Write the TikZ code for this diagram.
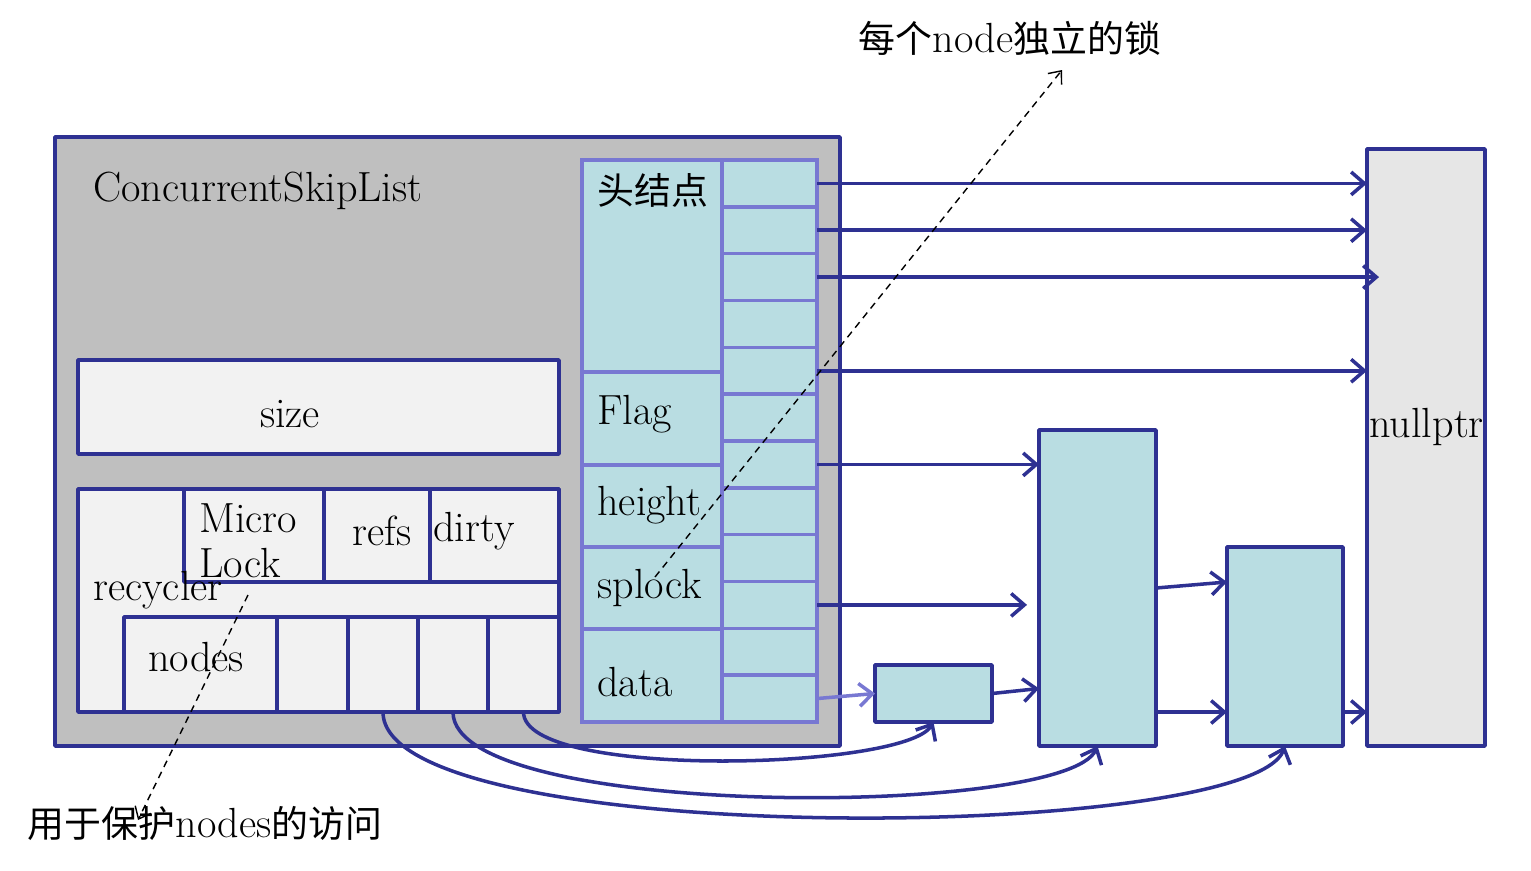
\documentclass[tikz,border=0pt]{standalone}
\usepackage{fontspec}
\newfontfamily\cjk{Noto Sans CJK SC}
\usetikzlibrary{arrows.meta,fit}
\definecolor{navy}{RGB}{46,49,146}
\definecolor{slate}{RGB}{120,120,210}
\definecolor{lblue}{RGB}{185,221,226}
\definecolor{gbg}{RGB}{191,191,191}
\definecolor{lgray}{RGB}{242,242,242}
\definecolor{ngray}{RGB}{230,230,230}
\newcommand{\zh}[1]{{\cjk\fontsize{21}{26}\selectfont #1}}
\begin{document}
\begin{tikzpicture}[x=0.02cm,y=-0.02cm,
  every node/.style={font=\fontsize{24}{25.5}\selectfont},
  box/.style={draw=navy,line width=2pt,inner sep=0pt,outer sep=0pt,line join=round},
  hcell/.style={draw=slate,fill=lblue,line width=2pt,inner sep=0pt,outer sep=0pt},
  lbl/.style={inner sep=0pt,anchor=west},
  arr/.style={navy,line width=2pt,-{Straight Barb[length=7.5pt,width=13pt]}},
  sarr/.style={slate,line width=2pt,-{Straight Barb[length=7.5pt,width=13pt]}},
  dsh/.style={black,line width=0.8pt,dash pattern=on 4pt off 3pt,-{Straight Barb[length=6pt,width=10pt]}}]
\useasboundingbox (0,0) rectangle (1531,870);

% outer structure
\node[box,fill=gbg,fit={(55,137)(840,746)}] (csl) {};
\node[lbl] (title) at (93,191) {ConcurrentSkipList};

\node[box,fill=lgray,fit={(78,360)(559,454)}] (size) {};
\node (sizet) at (290,414) {size};

\node[box,fill=lgray,fit={(78,489)(559,712)}] (rec) {};
\node[box,fill=lgray,fit={(184,489)(324,582)}] (mlock) {};
\node[box,fill=lgray,fit={(324,489)(430,582)}] (refs) {};
\node[box,fill=lgray,fit={(430,489)(559,582)}] (dirty) {};
\node[box,fill=lgray,fit={(124,617)(277,712)}] (nodes) {};
\node[box,fill=lgray,fit={(277,617)(348,712)}] (r2) {};
\node[box,fill=lgray,fit={(348,617)(418,712)}] (r3) {};
\node[box,fill=lgray,fit={(418,617)(488,712)}] (r4) {};
\node[box,fill=lgray,fit={(488,617)(559,712)}] (r5) {};
\node[lbl,align=left] (mlt) at (199,541) {Micro\\Lock};
\node (refst) at (382,531) {refs};
\node[lbl] (dirtyt) at (433,531) {dirty};
\node[lbl] (rect) at (93,590) {recycler};
\node (nodest) at (196,657) {nodes};

% head node
\node[hcell,fit={(582,160)(722,372)}] (hd) {};
\node[hcell,fit={(582,372)(722,465)}] (flag) {};
\node[hcell,fit={(582,465)(722,547)}] (height) {};
\node[hcell,fit={(582,547)(722,629)}] (splock) {};
\node[hcell,fit={(582,629)(722,722)}] (data) {};
\foreach \i in {1,...,12}{
  \pgfmathsetmacro\ya{160+(\i-1)*46.83}
  \pgfmathsetmacro\yb{160+\i*46.83}
  \node[hcell,fit={(722,\ya)(817,\yb)}] (c\i) {};
}
\node[lbl] (hdt) at (597,190) {\zh{头结点}};
\node[lbl] (flagt) at (597,414) {Flag};
\node[lbl] (heightt) at (597,505) {height};
\node[lbl] (splockt) at (597,588) {splock};
\node[lbl] (datat) at (597,682) {data};

% right nodes
\node[box,fill=lblue,fit={(875,665)(992,722)}] (small) {};
\node[box,fill=lblue,fit={(1039,430)(1156,746)}] (big) {};
\node[box,fill=lblue,fit={(1227,547)(1343,746)}] (mid) {};
\node[box,fill=ngray,fit={(1367,149)(1485,746)}] (null) {};
\node[lbl] (nullt) at (1369,427) {nullptr};

% arrows from head node
\draw[arr] (c1.east) -- (c1.east -| null.west);
\draw[arr] (c2.east) -- (c2.east -| null.west);
\draw[arr,shorten >=-0.24cm] (c3.east) -- (c3.east -| null.west);
\draw[arr] (c5.east) -- (c5.east -| null.west);
\draw[arr] (c7.east) -- (c7.east -| big.west);
\draw[arr,shorten >=0.24cm] (c10.east) -- (c10.east -| big.west);
\draw[sarr] (c12.east) -- (small.west);
\draw[arr] (small.east) -- ([yshift=0.1cm]small.east -| big.west);
\draw[arr] (big.east) -- ([yshift=0.12cm]big.east -| mid.west);
\draw[arr] ([yshift=0.68cm]big.south east) -- ([yshift=0.68cm]big.south east -| mid.west);
\draw[arr] ([yshift=0.68cm]mid.south east) -- ([yshift=0.68cm]mid.south east -| null.west);

% curved arrows from recycler nodes
\draw[arr] (r5.south) .. controls +(0,68) and +(-28,48) .. (small.south);
\draw[arr] (r4.south) .. controls +(0,108) and +(-32,72) .. (big.south);
\draw[arr] (r3.south) .. controls +(0,138) and +(-35,97) .. (mid.south);

% annotations
\node (lockt) at (1010,38) {\zh{每个}node\zh{独立的锁}};
\node (prott) at (205,823) {\zh{用于保护}nodes\zh{的访问}};
\coordinate (d1s) at (655,577);
\coordinate (d1e) at (1062,70);
\coordinate (d2s) at (248,595);
\coordinate (d2e) at (138,820);
\draw[dsh] (d1s) -- (d1e);
\draw[dsh] (d2s) -- (d2e);
\end{tikzpicture}
\end{document}
